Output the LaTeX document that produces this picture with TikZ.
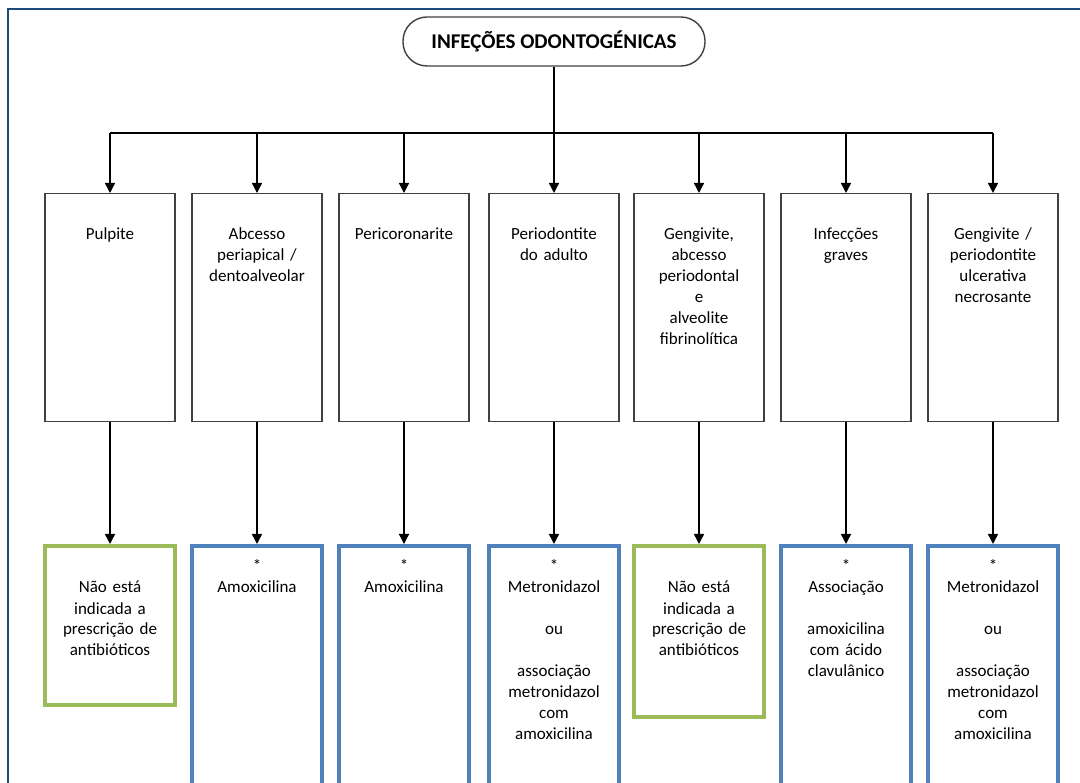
\documentclass[tikz,border=0pt]{standalone}
\usepackage{fontspec}
\setmainfont{Carlito}
\usetikzlibrary{arrows.meta}
\usetikzlibrary{positioning}

\definecolor{framecol}{RGB}{31,73,125}
\definecolor{medblue}{RGB}{79,129,189}
\definecolor{medgreen}{RGB}{155,187,89}

\begin{document}
\begin{tikzpicture}[x=1pt, y=-1pt,
    txt/.style={font=\fontsize{17}{21}\selectfont, align=center, text width=120pt,
                inner xsep=5pt, inner ysep=0pt, anchor=north},
    disease/.style={txt, draw=black!75, line width=1.4pt, text height=46pt, text depth=182pt},
    drug/.style={txt, draw=medblue, line width=4pt, text height=26pt, text depth=240pt},
    nodrug/.style={txt, draw=medgreen, line width=4pt, text height=47pt},
    heading/.style={draw=black!75, line width=1.4pt, rounded corners=24pt, minimum width=302pt,
                minimum height=49pt, font=\fontsize{21}{25}\selectfont\bfseries},
    arrow/.style={-{Triangle[width=10pt,length=10pt]}, line width=1.4pt},
  ]

  \useasboundingbox (0,0) rectangle (1080,783);
  \clip (0,0) rectangle (1080,783);
  \draw[framecol, line width=2.5pt] (8,9) rectangle (1120,820);

  \node[heading] (infec) at (554,41.5) {INFEÇÕES ODONTOGÉNICAS};
  \coordinate (bus) at (554,133);

  % diseases
  \node[disease] (pulp) at (110,193) {Pulpite};
  \node[disease] (abces) at (257,193) {Abcesso\\periapical /\\dentoalveolar};
  \node[disease] (peric) at (404,193) {Pericoronarite};
  \node[disease] (perio) at (554,193) {Periodontite\\do adulto};
  \node[disease] (gengi) at (699,193) {Gengivite,\\abcesso\\periodontal\\e\\alveolite\\fibrinolítica};
  \node[disease] (grav) at (846,193) {Infecções\\graves};
  \node[disease] (necro) at (993,193) {Gengivite /\\periodontite\\ulcerativa\\necrosante};

  % treatments
  \node[nodrug, text depth=112pt] (rpulp) at (110,544) {Não está\\indicada a\\prescrição de\\antibióticos};
  \node[drug] (rabces) at (257,544) {*\\Amoxicilina};
  \node[drug] (rperic) at (404,544) {*\\Amoxicilina};
  \node[drug] (rperio) at (554,544) {*\\Metronidazol\\[21pt]ou\\[21pt]associação\\metronidazol\\com\\amoxicilina};
  \node[nodrug, text depth=124pt] (rgengi) at (699,544) {Não está\\indicada a\\prescrição de\\antibióticos};
  \node[drug] (rgrav) at (846,544) {*\\Associação\\[21pt]amoxicilina\\com ácido\\clavulânico};
  \node[drug] (rnecro) at (993,544) {*\\Metronidazol\\[21pt]ou\\[21pt]associação\\metronidazol\\com\\amoxicilina};

  \draw[line width=1.4pt] (infec) -- (bus);
  \draw[line width=1.4pt] (pulp.north |- bus) -- (necro.north |- bus);
  \foreach \n in {pulp, abces, peric, perio, gengi, grav, necro}{
    \draw[arrow] (\n.north |- bus) -- (\n.north);
    \draw[arrow] (\n.south) -- (r\n.north);
  }
\end{tikzpicture}
\end{document}
